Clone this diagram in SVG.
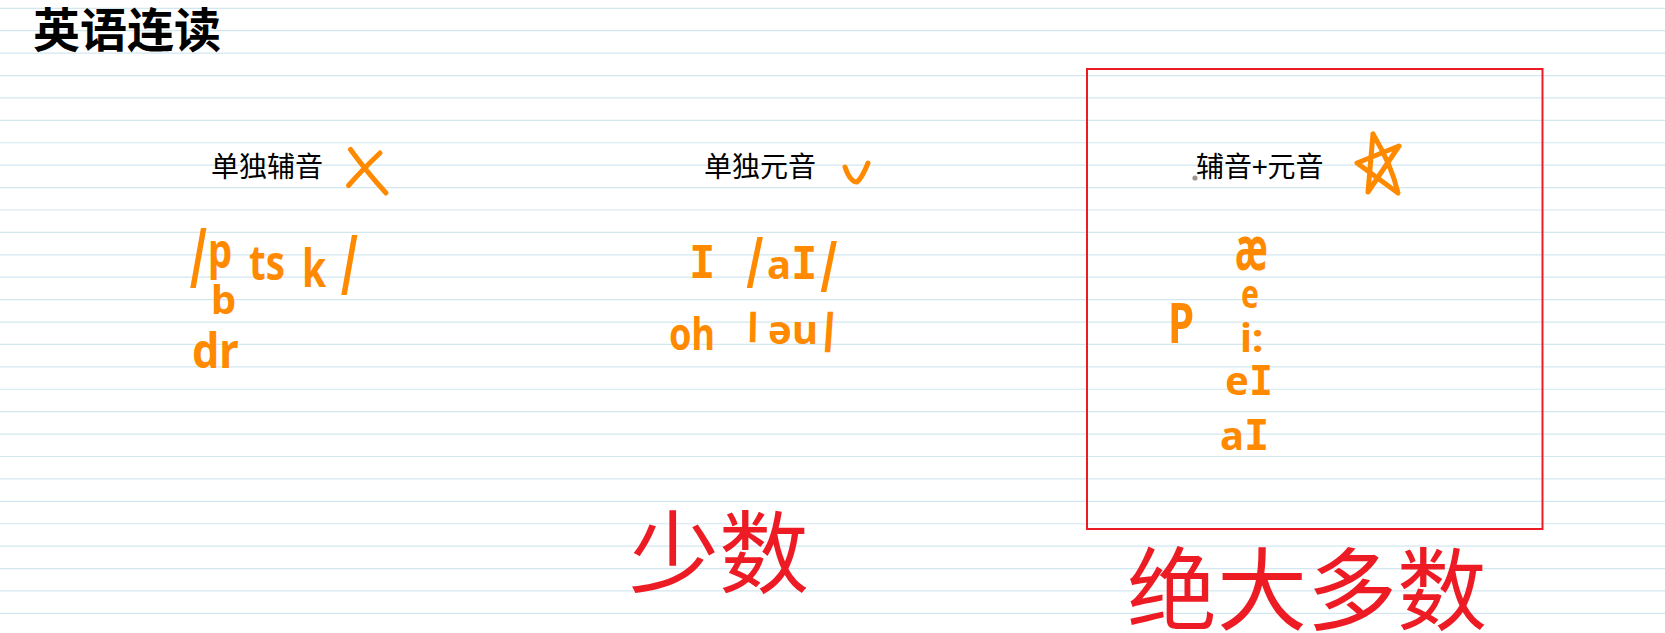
<svg xmlns="http://www.w3.org/2000/svg" width="1665" height="633" viewBox="0 0 1665 633">
<style>
.rule{fill:none;stroke:#d3e7f0;stroke-width:1.2}
.cn{font-family:"Noto Sans CJK SC","Noto Sans CJK TC",sans-serif}
.title{font-size:47px;font-weight:bold;fill:#000}
.lbl{font-size:28px;fill:#000}
.big{font-size:90px;fill:#ed1c24}
.hw{font-family:"Noto Sans","DejaVu Sans",sans-serif;font-weight:bold;font-size:40px;fill:#ff8a00}
.mono{font-family:"DejaVu Sans Mono","Liberation Mono",monospace;font-weight:bold}
.mark{fill:none;stroke:#ff8a00;stroke-width:5;stroke-linecap:round;stroke-linejoin:round}
.box{fill:none;stroke:#ed1c24;stroke-width:2}
</style>
<rect width="1665" height="633" fill="#fff"/>
<path class="rule" d="M0 8.3H1665M0 30.71H1665M0 53.12H1665M0 75.53H1665M0 97.94H1665M0 120.35H1665M0 142.76H1665M0 165.17H1665M0 187.58H1665M0 209.99H1665M0 232.4H1665M0 254.81H1665M0 277.22H1665M0 299.63H1665M0 322.04H1665M0 344.45H1665M0 366.86H1665M0 389.27H1665M0 411.68H1665M0 434.09H1665M0 456.5H1665M0 478.91H1665M0 501.32H1665M0 523.73H1665M0 546.14H1665M0 568.55H1665M0 590.96H1665M0 613.37H1665"/>

<g id="title">
<text class="cn title" x="33" y="47">英语连读</text>
</g>

<g id="consonant">
<text class="cn lbl" x="211" y="177">单独辅音</text>
<path class="mark" d="M350.5 149.5 Q366 171 386 193 M380 153 Q362 170 348.5 185.5"/>
<text class="hw" transform="translate(190,288) scale(1,2.05)">/</text>
<text class="hw" transform="translate(208,268) scale(0.8,1)" style="font-size:48px">p</text>
<text class="hw" transform="translate(249,280) scale(0.8,1)" style="font-size:48px">ts</text>
<text class="hw" transform="translate(302,287) scale(0.75,1)" style="font-size:52px">k</text>
<text class="hw" transform="translate(341,295) scale(1,2.05)">/</text>
<text class="hw" x="211" y="314">b</text>
<text class="hw" transform="translate(192,368) scale(0.9,1)" style="font-size:48px">dr</text>
</g>

<g id="vowel">
<text class="cn lbl" x="704" y="177">单独元音</text>
<path class="mark" d="M845 167 Q850 182 857 182 Q862 178 868 163"/>
<text class="hw mono" x="689" y="278" style="font-size:44px">I</text>
<text class="hw" transform="translate(746.5,288) scale(1,1.75)">/</text>
<text class="hw" x="767" y="279">a<tspan class="mono" style="font-size:44px">I</tspan></text>
<text class="hw" transform="translate(820.5,292) scale(1,1.75)">/</text>
<text class="hw" transform="translate(669,350) scale(0.8,1)" style="font-size:45px">oh</text>
<text class="hw" transform="translate(749.5,342) scale(1,1.05) skewX(19)">/</text>
<text class="hw" x="768" y="344">əu</text>
<text class="hw" transform="translate(824.5,352) scale(1,1.4) skewX(15)">/</text>
</g>

<g id="combo">
<rect class="box" x="1087" y="69" width="455.5" height="460"/>
<circle cx="1195" cy="178" r="2.6" fill="#a0968c"/>
<text class="cn lbl" x="1196" y="177">辅音+元音</text>
<path class="mark" d="M1373 134 L1368 192 L1399 146 L1357 163 L1398 193 Q1392 166 1373 134"/>
<text class="hw" transform="translate(1168,343) scale(0.75,1)" style="font-size:56px">P</text>
<text class="hw" transform="translate(1235,270) scale(0.85,1.45)" style="font-size:42px">æ</text>
<text class="hw" transform="translate(1241,308) scale(0.75,1)">e</text>
<text class="hw" x="1240" y="352">i:</text>
<text class="hw" x="1225" y="395">e<tspan class="mono" style="font-size:40px">I</tspan></text>
<text class="hw" x="1220" y="450">a<tspan class="mono" style="font-size:42px">I</tspan></text>
</g>

<g id="notes">
<text class="cn big" x="629" y="586">少数</text>
<text class="cn big" x="1127" y="623">绝大多数</text>
</g>
</svg>
